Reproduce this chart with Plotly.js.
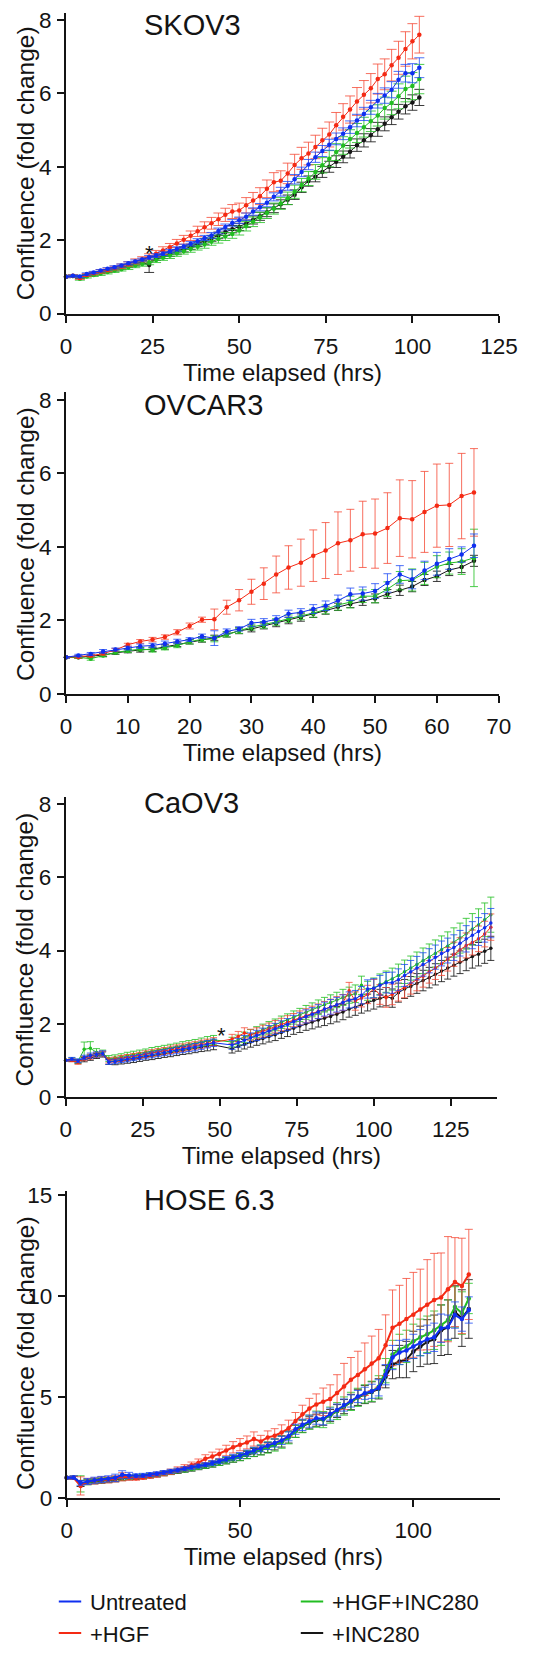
<!DOCTYPE html>
<html><head><meta charset="utf-8">
<script src="https://cdn.plot.ly/plotly-3.0.1.min.js"></script>
<style>html,body{margin:0;padding:0;background:#fff}#chart{width:553px;height:1655px}</style>
</head><body><div id="chart"></div>
<script>
// ---------- DATA ----------
const seriesNames = ['Untreated', '+HGF', '+HGF+INC280', '+INC280'];

// SKOV3
const tSKOV3 = [0,2,4,6,8,10,12,14,16,18,20,22,24,26,28,30,32,34,36,38,40,42,44,46,48,50,52,54,56,58,60,62,64,66,68,70,72,74,76,78,80,82,84,86,88,90,92,94,96,98,100,102];
const skov3Untreated = [1.00,1.03,1.01,1.08,1.12,1.17,1.22,1.26,1.31,1.37,1.42,1.47,1.53,1.58,1.63,1.70,1.76,1.83,1.90,1.97,2.06,2.13,2.25,2.36,2.47,2.54,2.64,2.78,2.90,3.02,3.18,3.32,3.48,3.66,3.86,4.06,4.26,4.43,4.60,4.76,4.90,5.08,5.26,5.44,5.62,5.80,5.94,6.10,6.37,6.55,6.55,6.70];
const skov3HGF = [1.00,1.03,0.97,1.05,1.10,1.15,1.19,1.24,1.29,1.35,1.42,1.48,1.55,1.63,1.72,1.81,1.91,2.01,2.12,2.24,2.35,2.46,2.57,2.69,2.78,2.81,2.95,3.08,3.20,3.40,3.58,3.62,3.82,4.05,4.23,4.36,4.54,4.72,4.88,5.13,5.36,5.56,5.78,5.96,6.14,6.39,6.52,6.77,6.97,7.21,7.42,7.60];
const skov3HGFINC = [1.00,1.02,0.95,1.01,1.05,1.09,1.13,1.17,1.21,1.26,1.31,1.35,1.40,1.46,1.52,1.58,1.64,1.70,1.76,1.82,1.88,1.96,2.03,2.10,2.17,2.26,2.38,2.50,2.62,2.74,2.86,3.00,3.14,3.32,3.50,3.68,3.86,4.04,4.22,4.40,4.58,4.76,4.92,5.08,5.24,5.40,5.60,5.74,5.92,6.12,6.20,6.39];
const skov3INC = [1.00,1.02,0.99,1.04,1.08,1.12,1.16,1.20,1.25,1.30,1.35,1.40,1.32,1.50,1.56,1.62,1.68,1.75,1.82,1.90,1.97,2.05,2.13,2.22,2.30,2.36,2.45,2.55,2.65,2.76,2.87,2.98,3.10,3.24,3.44,3.61,3.73,3.86,4.00,4.14,4.27,4.41,4.59,4.72,4.86,5.02,5.17,5.35,5.50,5.65,5.75,5.89];
const skov3UntreatedErr = [0.02,0.02,0.03,0.03,0.03,0.03,0.03,0.04,0.04,0.04,0.04,0.04,0.05,0.05,0.05,0.05,0.06,0.06,0.06,0.07,0.07,0.08,0.08,0.08,0.09,0.09,0.10,0.10,0.10,0.11,0.11,0.12,0.12,0.13,0.13,0.14,0.14,0.15,0.15,0.16,0.16,0.17,0.17,0.18,0.19,0.20,0.21,0.22,0.23,0.24,0.26,0.27];
const skov3HGFErr = [0.02,0.03,0.04,0.04,0.04,0.05,0.05,0.05,0.06,0.06,0.07,0.07,0.08,0.09,0.10,0.10,0.11,0.12,0.13,0.14,0.15,0.16,0.17,0.18,0.19,0.20,0.21,0.22,0.23,0.24,0.26,0.27,0.28,0.29,0.30,0.31,0.32,0.33,0.34,0.35,0.36,0.37,0.38,0.39,0.40,0.41,0.42,0.43,0.45,0.47,0.48,0.50];
const skov3HGFINCErr = [0.02,0.03,0.04,0.04,0.04,0.05,0.05,0.05,0.05,0.06,0.06,0.06,0.07,0.07,0.07,0.08,0.08,0.08,0.09,0.09,0.10,0.10,0.11,0.11,0.12,0.12,0.13,0.13,0.14,0.15,0.15,0.16,0.17,0.18,0.18,0.19,0.20,0.21,0.22,0.23,0.24,0.25,0.26,0.27,0.28,0.29,0.30,0.32,0.34,0.35,0.37,0.40];
const skov3INCErr = [0.02,0.02,0.03,0.03,0.03,0.03,0.04,0.04,0.04,0.04,0.05,0.05,0.20,0.05,0.06,0.06,0.06,0.07,0.07,0.07,0.08,0.08,0.09,0.09,0.10,0.10,0.10,0.11,0.11,0.12,0.12,0.12,0.13,0.13,0.14,0.14,0.14,0.15,0.15,0.16,0.16,0.17,0.17,0.18,0.18,0.19,0.19,0.20,0.20,0.21,0.21,0.22];

// OVCAR3
const tOVCAR3 = [0,2,4,6,8,10,12,14,16,18,20,22,24,26,28,30,32,34,36,38,40,42,44,46,48,50,52,54,56,58,60,62,64,66];
const ovcar3Untreated = [1.00,1.05,1.09,1.16,1.21,1.25,1.30,1.32,1.37,1.43,1.48,1.57,1.52,1.70,1.77,1.93,1.96,2.03,2.18,2.22,2.31,2.40,2.54,2.71,2.73,2.80,3.02,3.25,3.12,3.36,3.54,3.67,3.79,4.03];
const ovcar3HGF = [1.00,1.01,1.04,1.10,1.20,1.34,1.43,1.48,1.55,1.68,1.85,2.02,2.03,2.36,2.55,2.78,3.00,3.25,3.44,3.57,3.76,3.90,4.10,4.18,4.34,4.36,4.51,4.78,4.75,4.95,5.12,5.14,5.38,5.48];
const ovcar3HGFINC = [1.00,1.00,0.96,1.05,1.13,1.18,1.22,1.20,1.25,1.32,1.42,1.49,1.50,1.62,1.72,1.82,1.88,1.96,2.05,2.12,2.20,2.30,2.42,2.50,2.66,2.66,2.85,3.08,3.10,3.28,3.46,3.56,3.60,3.70];
const ovcar3INC = [1.00,1.00,1.03,1.06,1.12,1.17,1.20,1.22,1.28,1.35,1.42,1.48,1.53,1.62,1.72,1.77,1.85,1.92,2.00,2.08,2.18,2.27,2.37,2.45,2.52,2.60,2.72,2.82,2.92,3.10,3.20,3.37,3.45,3.62];
const ovcar3UntreatedErr = [0.02,0.03,0.04,0.05,0.04,0.05,0.06,0.06,0.07,0.06,0.05,0.06,0.20,0.07,0.06,0.10,0.09,0.10,0.10,0.10,0.12,0.13,0.15,0.17,0.18,0.20,0.25,0.24,0.26,0.25,0.31,0.28,0.21,0.32];
const ovcar3HGFErr = [0.02,0.03,0.03,0.04,0.04,0.04,0.05,0.06,0.06,0.07,0.08,0.07,0.28,0.19,0.29,0.34,0.43,0.50,0.59,0.64,0.70,0.76,0.85,0.84,0.90,0.94,0.96,1.04,1.05,1.10,1.13,1.13,1.16,1.19];
const ovcar3HGFINCErr = [0.02,0.03,0.04,0.04,0.04,0.05,0.05,0.06,0.05,0.06,0.06,0.07,0.08,0.07,0.07,0.08,0.09,0.09,0.10,0.10,0.11,0.12,0.14,0.16,0.17,0.18,0.20,0.25,0.30,0.30,0.30,0.30,0.35,0.78];
const ovcar3INCErr = [0.02,0.03,0.03,0.04,0.04,0.05,0.06,0.06,0.06,0.06,0.06,0.07,0.07,0.07,0.08,0.08,0.08,0.09,0.09,0.10,0.10,0.10,0.10,0.10,0.11,0.12,0.12,0.14,0.14,0.15,0.14,0.15,0.15,0.15];

// CaOV3
const tCaOV3 = [0,2,4,6,8,10,12,14,16,18,20,22,24,26,28,30,32,34,36,38,40,42,44,46,48,54,56,58,60,62,64,66,68,70,72,74,76,78,80,82,84,86,88,90,92,94,96,98,100,102,104,106,108,110,112,114,116,118,120,122,124,126,128,130,132,134,136,138];
const caov3Untreated = [1.00,1.04,0.99,1.08,1.13,1.16,1.19,0.95,0.97,1.00,1.03,1.06,1.09,1.12,1.15,1.18,1.21,1.24,1.27,1.30,1.33,1.36,1.40,1.44,1.48,1.42,1.48,1.55,1.62,1.68,1.74,1.80,1.86,1.92,1.98,2.06,2.13,2.20,2.26,2.33,2.40,2.46,2.52,2.58,2.65,2.68,2.78,2.95,2.97,3.05,3.12,3.12,3.20,3.32,3.42,3.52,3.62,3.72,3.82,3.92,4.00,4.08,4.20,4.32,4.42,4.52,4.62,4.75];
const caov3HGF = [1.00,1.00,0.95,1.05,1.10,1.15,1.18,1.00,1.02,1.05,1.08,1.11,1.14,1.17,1.20,1.23,1.26,1.29,1.32,1.35,1.38,1.41,1.44,1.47,1.51,1.58,1.65,1.75,1.70,1.74,1.80,1.86,1.92,1.98,2.04,2.10,2.16,2.22,2.28,2.34,2.40,2.46,2.52,2.58,2.90,2.62,2.70,2.80,2.95,2.80,2.72,2.80,2.90,3.00,3.10,3.20,3.30,3.42,3.52,3.64,3.76,3.90,4.02,4.14,4.22,4.32,4.45,4.64];
const caov3HGFINC = [1.00,1.03,0.98,1.30,1.33,1.22,1.20,1.05,1.07,1.10,1.13,1.16,1.19,1.22,1.25,1.28,1.31,1.34,1.37,1.40,1.43,1.46,1.50,1.53,1.56,1.50,1.56,1.63,1.70,1.77,1.84,1.90,1.97,2.04,2.10,2.17,2.24,2.31,2.38,2.45,2.52,2.58,2.65,2.72,2.78,2.82,3.05,2.90,2.98,3.08,3.15,3.22,3.32,3.42,3.52,3.62,3.72,3.82,3.92,4.02,4.12,4.22,4.34,4.46,4.58,4.70,4.84,4.98];
const caov3INC = [1.00,1.00,0.97,1.02,1.07,1.12,1.16,0.96,0.96,0.98,1.00,1.03,1.06,1.09,1.12,1.15,1.18,1.21,1.24,1.27,1.30,1.33,1.36,1.39,1.42,1.32,1.38,1.44,1.50,1.55,1.60,1.65,1.70,1.76,1.82,1.88,1.94,2.00,2.05,2.10,2.15,2.20,2.26,2.32,2.40,2.45,2.52,2.58,2.64,2.70,2.74,2.70,2.85,2.95,3.02,3.10,3.18,3.26,3.35,3.44,3.52,3.60,3.68,3.76,3.84,3.90,3.98,4.06];
const caov3UntreatedErr = [0.02,0.04,0.05,0.06,0.07,0.07,0.07,0.06,0.06,0.06,0.07,0.07,0.07,0.08,0.08,0.08,0.08,0.09,0.09,0.09,0.09,0.10,0.10,0.10,0.10,0.12,0.12,0.13,0.13,0.14,0.14,0.15,0.15,0.16,0.16,0.17,0.17,0.18,0.18,0.19,0.19,0.20,0.20,0.21,0.22,0.23,0.24,0.25,0.26,0.27,0.28,0.29,0.30,0.30,0.31,0.32,0.32,0.33,0.33,0.34,0.34,0.35,0.35,0.36,0.37,0.38,0.39,0.40];
const caov3HGFErr = [0.02,0.04,0.06,0.06,0.07,0.07,0.07,0.07,0.07,0.08,0.08,0.08,0.08,0.09,0.09,0.09,0.09,0.10,0.10,0.10,0.10,0.10,0.11,0.11,0.11,0.13,0.14,0.14,0.15,0.15,0.16,0.16,0.17,0.17,0.18,0.18,0.19,0.19,0.20,0.20,0.21,0.21,0.22,0.22,0.23,0.25,0.24,0.25,0.26,0.27,0.27,0.28,0.28,0.29,0.29,0.30,0.30,0.31,0.31,0.32,0.32,0.33,0.33,0.34,0.34,0.35,0.35,0.36];
const caov3HGFINCErr = [0.02,0.04,0.05,0.20,0.18,0.10,0.08,0.08,0.08,0.08,0.09,0.09,0.09,0.09,0.10,0.10,0.10,0.10,0.10,0.11,0.11,0.11,0.11,0.12,0.12,0.13,0.13,0.14,0.14,0.15,0.15,0.16,0.16,0.17,0.17,0.18,0.18,0.19,0.19,0.20,0.20,0.21,0.21,0.22,0.22,0.24,0.25,0.26,0.27,0.28,0.29,0.30,0.31,0.32,0.33,0.34,0.35,0.36,0.37,0.38,0.39,0.40,0.41,0.42,0.43,0.44,0.46,0.48];
const caov3INCErr = [0.02,0.03,0.05,0.06,0.07,0.07,0.07,0.07,0.08,0.08,0.08,0.09,0.09,0.09,0.10,0.10,0.10,0.11,0.11,0.11,0.12,0.12,0.12,0.13,0.13,0.12,0.13,0.13,0.14,0.14,0.15,0.15,0.16,0.16,0.17,0.17,0.18,0.18,0.19,0.19,0.20,0.20,0.21,0.21,0.22,0.22,0.23,0.23,0.24,0.24,0.25,0.25,0.26,0.26,0.27,0.27,0.28,0.28,0.29,0.29,0.30,0.30,0.31,0.31,0.32,0.32,0.33,0.33];

// HOSE 6.3
const tHOSE = [0,2,4,6,8,10,12,14,16,18,20,22,24,26,28,30,32,34,36,38,40,42,44,46,48,50,52,54,56,58,60,62,64,66,68,70,72,74,76,78,80,82,84,86,88,90,92,94,96,98,100,102,104,106,108,110,112,114,116];
const hoseUntreated = [1.00,1.02,0.75,0.82,0.88,0.92,0.95,1.00,1.15,1.12,1.10,1.12,1.16,1.20,1.26,1.32,1.38,1.45,1.52,1.58,1.65,1.73,1.82,1.92,2.02,2.10,2.22,2.35,2.45,2.58,2.72,2.85,3.05,3.40,3.62,3.80,3.95,3.92,4.15,4.35,4.60,4.80,5.02,5.18,5.28,5.45,6.10,6.95,7.20,7.30,7.50,7.68,7.85,7.95,8.40,8.45,9.05,8.85,9.30];
const hoseHGF = [1.00,1.00,0.60,0.82,0.85,0.90,0.90,0.95,1.05,1.00,0.98,1.02,1.08,1.15,1.22,1.30,1.40,1.50,1.62,1.75,1.94,2.05,2.18,2.35,2.51,2.64,2.75,2.92,2.80,3.00,3.08,3.24,3.45,3.81,4.14,4.43,4.63,4.76,4.90,5.20,5.52,5.85,6.09,6.37,6.66,6.91,7.56,8.42,8.62,8.86,9.06,9.32,9.56,9.80,9.92,10.33,10.68,10.49,11.06];
const hoseHGFINC = [1.00,1.00,0.70,0.78,0.84,0.88,0.90,0.95,1.00,1.02,1.05,1.08,1.12,1.16,1.22,1.28,1.34,1.40,1.47,1.54,1.60,1.68,1.76,1.85,1.95,2.03,2.15,2.28,2.38,2.50,2.62,2.76,2.98,3.30,3.55,3.75,3.90,3.88,4.10,4.30,4.55,4.78,4.98,5.15,5.28,5.50,6.30,7.10,7.35,7.50,7.75,7.95,8.10,8.30,8.55,8.80,9.45,9.15,9.87];
const hoseINC = [1.00,1.00,0.72,0.78,0.82,0.85,0.88,0.92,0.98,1.00,1.02,1.05,1.09,1.14,1.20,1.26,1.32,1.38,1.45,1.52,1.58,1.66,1.75,1.84,1.93,2.02,2.13,2.25,2.36,2.50,2.65,2.80,3.02,3.30,3.55,3.72,3.85,3.90,4.08,4.30,4.52,4.75,4.98,5.12,5.25,5.40,6.00,6.60,6.75,6.85,7.25,7.50,7.72,7.85,8.30,8.45,9.20,8.90,9.35];
const hoseUntreatedErr = [0.05,0.08,0.12,0.15,0.15,0.15,0.15,0.18,0.20,0.15,0.10,0.10,0.10,0.10,0.10,0.10,0.10,0.10,0.10,0.10,0.10,0.12,0.12,0.13,0.14,0.15,0.15,0.16,0.16,0.18,0.20,0.20,0.22,0.25,0.28,0.30,0.30,0.30,0.30,0.30,0.30,0.30,0.30,0.30,0.35,0.40,0.50,0.60,0.60,0.55,0.60,0.65,0.70,0.70,0.70,0.60,0.65,0.60,0.65];
const hoseHGFErr = [0.05,0.08,0.45,0.15,0.15,0.15,0.15,0.15,0.20,0.12,0.10,0.10,0.10,0.12,0.12,0.13,0.14,0.15,0.16,0.18,0.20,0.22,0.24,0.26,0.28,0.30,0.32,0.35,0.30,0.32,0.35,0.38,0.40,0.42,0.45,0.50,0.52,0.68,0.70,0.90,1.14,1.10,1.17,1.30,1.35,1.43,1.50,1.87,1.90,2.00,2.10,2.00,2.23,2.30,2.20,2.60,2.20,2.36,2.23];
const hoseHGFINCErr = [0.05,0.08,0.40,0.12,0.12,0.12,0.12,0.12,0.12,0.10,0.10,0.10,0.10,0.10,0.10,0.10,0.10,0.12,0.12,0.12,0.13,0.14,0.15,0.16,0.17,0.18,0.20,0.22,0.25,0.28,0.30,0.30,0.30,0.30,0.32,0.35,0.40,0.40,0.40,0.42,0.45,0.45,0.45,0.45,0.50,0.55,0.60,0.70,0.75,0.80,0.85,0.90,0.90,0.95,1.00,1.00,1.00,1.05,0.75];
const hoseINCErr = [0.05,0.08,0.15,0.12,0.12,0.12,0.12,0.12,0.12,0.10,0.10,0.10,0.10,0.10,0.10,0.10,0.10,0.10,0.12,0.12,0.12,0.13,0.14,0.15,0.16,0.17,0.18,0.20,0.22,0.25,0.27,0.28,0.30,0.30,0.30,0.30,0.30,0.30,0.30,0.32,0.35,0.38,0.40,0.45,0.50,0.50,0.55,0.70,0.80,0.90,1.00,1.00,1.10,1.20,1.25,1.35,1.30,1.40,1.45];

// tick labels
const ticksSKOV3X = [0,25,50,75,100,125];
const ticksOVCAR3X = [0,10,20,30,40,50,60,70];
const ticksCaOV3X = [0,25,50,75,100,125];
const ticksHOSEX = [0,50,100];
const ticks8Y = [0,2,4,6,8];
const ticksHOSEY = [0,5,10,15];
const panelTitles = ['SKOV3', 'OVCAR3', 'CaOV3', 'HOSE 6.3'];
const xTitle = 'Time elapsed (hrs)';
const yTitle = 'Confluence (fold change)';

// ---------- STYLE ----------
const W = 553, H = 1655;
const FONT = 'Liberation Sans, Arial, Helvetica, sans-serif';
const INK = '#141414';
const colors = {Untreated:'#0f2ff0', '+HGF':'#f42a14', '+HGF+INC280':'#22bd22', '+INC280':'#161616'};
const ecolors = {Untreated:'rgba(30,75,245,0.8)', '+HGF':'rgba(245,75,55,0.8)', '+HGF+INC280':'rgba(45,195,45,0.85)', '+INC280':'rgba(25,25,25,0.85)'};
const fx = p => p / W;
const fy = p => 1 - p / H;

const panels = [
  {t:tSKOV3, data:{Untreated:[skov3Untreated,skov3UntreatedErr], '+HGF':[skov3HGF,skov3HGFErr], '+HGF+INC280':[skov3HGFINC,skov3HGFINCErr], '+INC280':[skov3INC,skov3INCErr]},
   xd:[66,499], yd:[317,12.8], xr:[0,125], yr:[0,8.2], xt:ticksSKOV3X, yt:ticks8Y, lw:1, ms:4.5, cap:5},
  {t:tOVCAR3, data:{Untreated:[ovcar3Untreated,ovcar3UntreatedErr], '+HGF':[ovcar3HGF,ovcar3HGFErr], '+HGF+INC280':[ovcar3HGFINC,ovcar3HGFINCErr], '+INC280':[ovcar3INC,ovcar3INCErr]},
   xd:[66,498.7], yd:[701.7,396.6], xr:[0,70], yr:[0,8.2], xt:ticksOVCAR3X, yt:ticks8Y, lw:1, ms:4.5, cap:4},
  {t:tCaOV3, data:{Untreated:[caov3Untreated,caov3UntreatedErr], '+HGF':[caov3HGF,caov3HGFErr], '+HGF+INC280':[caov3HGFINC,caov3HGFINCErr], '+INC280':[caov3INC,caov3INCErr]},
   xd:[65.7,497], yd:[1109,805.6], xr:[0,140], yr:[0,8.2], xt:ticksCaOV3X, yt:ticks8Y, lw:1, ms:3.5, cap:3.5},
  {t:tHOSE, data:{Untreated:[hoseUntreated,hoseUntreatedErr], '+HGF':[hoseHGF,hoseHGFErr], '+HGF+INC280':[hoseHGFINC,hoseHGFINCErr], '+INC280':[hoseINC,hoseINCErr]},
   xd:[66.7,500], yd:[1514.5,1203.8], xr:[0,125], yr:[0,15.2], xt:ticksHOSEX, yt:ticksHOSEY, lw:2, ms:4.5, cap:4}
];

const drawOrder = ['+INC280', '+HGF+INC280', '+HGF', 'Untreated'];
const traces = [];
const layout = {
  width: W, height: H, margin:{l:0,r:0,t:0,b:0},
  paper_bgcolor:'#fff', plot_bgcolor:'rgba(0,0,0,0)',
  font:{family:FONT, color:INK},
  showlegend:true,
  legend:{orientation:'h', x:fx(50), y:fy(1598), xanchor:'left', yanchor:'top',
          entrywidth:197, entrywidthmode:'pixels', itemwidth:30, tracegroupgap:0, itemsizing:'trace',
          font:{family:FONT, size:22, color:INK}, bgcolor:'rgba(0,0,0,0)', traceorder:'normal'},
  annotations: [],
};

panels.forEach((p, i) => {
  const n = i === 0 ? '' : String(i + 1);
  const xa = 'x' + n, ya = 'y' + n;
  drawOrder.forEach(name => {
    const [vals, errs] = p.data[name];
    traces.push({
      type:'scatter', mode:'lines+markers', x:p.t, y:vals, xaxis:xa, yaxis:ya,
      name:name, showlegend:false, cliponaxis:false,
      line:{color:colors[name], width:p.lw},
      marker:{color:colors[name], size:p.ms},
      error_y:{type:'data', array:errs, visible:true, color:ecolors[name], thickness:1, width:p.cap}
    });
  });
  layout['xaxis' + n] = {
    domain:[fx(p.xd[0]), fx(p.xd[1])], range:p.xr, anchor:ya,
    showline:true, linecolor:INK, linewidth:2, ticks:'outside', ticklen:7, tickwidth:2, tickcolor:INK,
    tickmode:'array', tickvals:p.xt, tickfont:{family:FONT, size:22.5, color:INK}, ticklabelstandoff:4,
    showgrid:false, zeroline:false, fixedrange:true,
    title:{text:xTitle, font:{family:FONT, size:24, color:INK}, standoff:2}
  };
  layout['yaxis' + n] = {
    domain:[fy(p.yd[0]), fy(p.yd[1])], range:p.yr, anchor:xa,
    showline:true, linecolor:INK, linewidth:2, ticks:'outside', ticklen:7, tickwidth:2, tickcolor:INK,
    tickmode:'array', tickvals:p.yt, tickfont:{family:FONT, size:22.5, color:INK}, ticklabelstandoff:1,
    showgrid:false, zeroline:false, fixedrange:true
  };
});

// legend entries (short line swatches only)
const legendRank = {Untreated:1, '+HGF+INC280':2, '+HGF':3, '+INC280':4};
seriesNames.forEach(name => {
  traces.push({type:'scatter', mode:'markers', x:[null], y:[null], name:name,
    showlegend:true, legendrank:legendRank[name], hoverinfo:'skip',
    marker:{symbol:'line-ew', size:16, color:colors[name], line:{color:colors[name], width:2}}});
});

// panel titles
const titleY = [25, 409, 812, 1213];
panelTitles.forEach((txt, i) => {
  layout.annotations.push({text:txt, xref:'paper', yref:'paper', x:fx(142), y:fy(titleY[i]),
    xanchor:'left', yanchor:'middle', showarrow:false, font:{family:FONT, size:29, color:INK}});
});
// y-axis titles
const yTitleY = [165, 550, 960, 1368];
yTitleY.forEach(yc => {
  layout.annotations.push({text:yTitle, xref:'paper', yref:'paper', x:fx(25), y:fy(yc),
    xanchor:'center', yanchor:'middle', textangle:-90, showarrow:false,
    font:{family:FONT, size:24.5, color:INK}});
});
// significance marks
layout.annotations.push({text:'*', xref:'x', yref:'y', x:24, y:1.65, xanchor:'center', yanchor:'middle',
  showarrow:false, font:{family:FONT, size:22, color:INK}});
layout.annotations.push({text:'*', xref:'x3', yref:'y3', x:50.7, y:1.68, xanchor:'center', yanchor:'middle',
  showarrow:false, font:{family:FONT, size:22, color:INK}});

Plotly.newPlot('chart', traces, layout, {staticPlot:true, displayModeBar:false});
</script></body></html>
